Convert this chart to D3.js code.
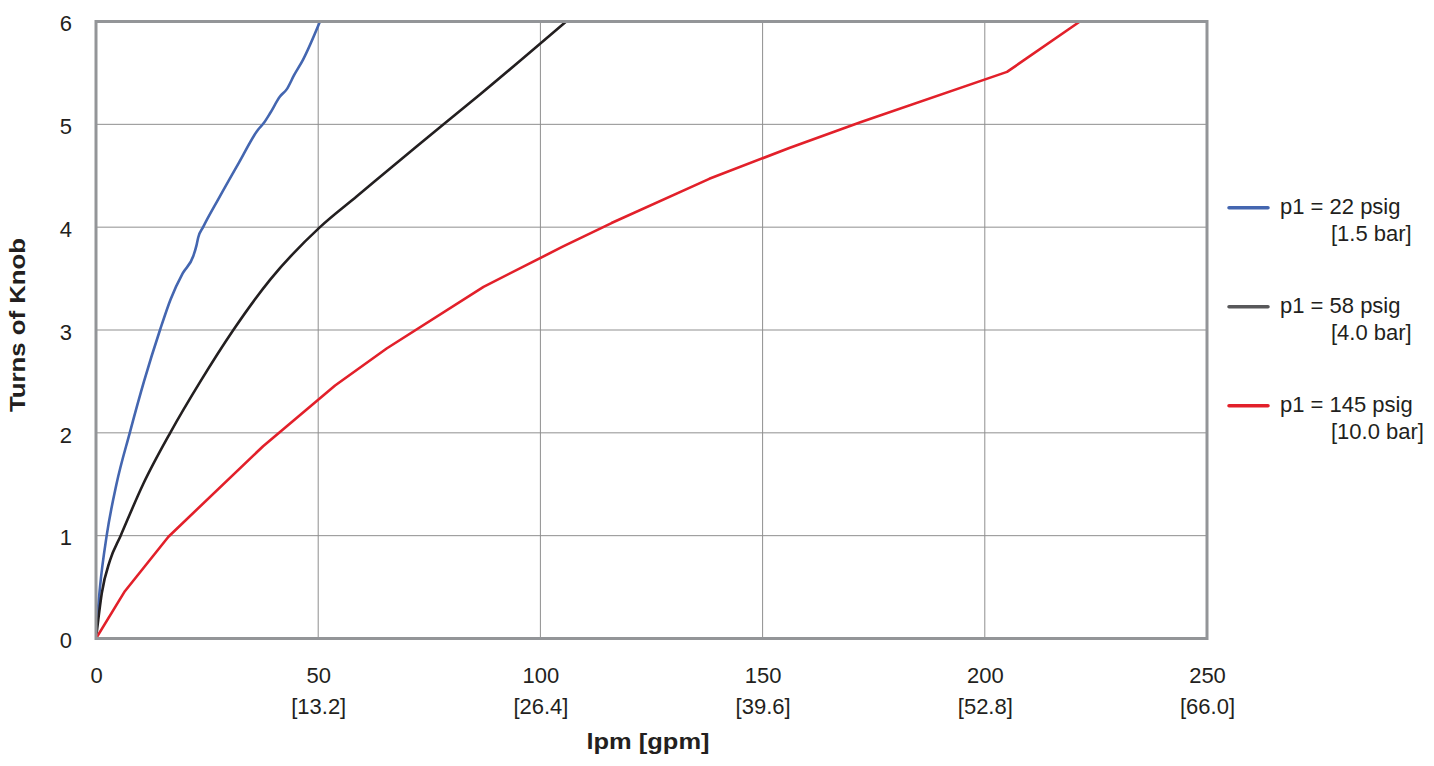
<!DOCTYPE html>
<html>
<head>
<meta charset="utf-8">
<script src="https://cdn.jsdelivr.net/npm/d3@7"></script>
<style>
  html, body { margin: 0; padding: 0; background: #fff; }
  svg { display: block; }
  text { font-family: "Liberation Sans", Arial, sans-serif; fill: #231f20; }
</style>
</head>
<body>
<svg id="chart" width="1434" height="766"></svg>
<script>
// ---- data ----
const xTicks = [0, 50, 100, 150, 200, 250];
const xTickSub = ["", "[13.2]", "[26.4]", "[39.6]", "[52.8]", "[66.0]"];
const yTicks = [0, 1, 2, 3, 4, 5, 6];

const seriesNames = ["p1 = 22 psig", "p1 = 58 psig", "p1 = 145 psig"];
const seriesSub = ["[1.5 bar]", "[4.0 bar]", "[10.0 bar]"];

const blue22 = [
  [0,0],[0.3,0.2],[0.9,0.5],[2.4,1.0],[4.6,1.5],[7.6,2.0],[10.8,2.5],[14.4,3.0],
  [16.8,3.3],[19.5,3.55],[21.9,3.72],[22.6,3.82],[23.0,3.9],[24.1,4.0],[27.5,4.27],
  [32.2,4.63],[36.5,4.95],[37.7,5.01],[39.2,5.11],[41.4,5.27],[42.9,5.34],[44.6,5.48],
  [46.6,5.63],[50.4,6.0]
];
const black58 = [
  [0,0],[0.5,0.18],[1.3,0.44],[3.15,0.76],[5.55,1.0],[10.6,1.5],[16.7,2.0],[23.5,2.5],
  [30.9,3.0],[39.2,3.49],[50.4,4.0],[58.7,4.3],[72,4.78],[86.4,5.29],[105.8,6.0]
];
const red145 = [
  [0,0],[6.5,0.46],[16.3,0.99],[37.6,1.87],[53.8,2.46],[65.4,2.82],[87.2,3.42],
  [105,3.81],[116,4.04],[138,4.47],[156,4.77],[172,5.02],[205,5.51],[221.4,6.0]
];

const seriesData = [blue22, black58, red145];
const seriesColors = ["#4466b0", "#231f20", "#e2202a"];
const legendColors = ["#4466b0", "#58585a", "#e2202a"];
const seriesCurves = [d3.curveMonotoneX, d3.curveMonotoneX, d3.curveLinear];

// ---- layout ----
const svg = d3.select("#chart");
const L = 96, R = 1207, T = 21.5, B = 638.5;

const x = d3.scaleLinear().domain([0, 250]).range([L, R]);
const y = d3.scaleLinear().domain([0, 6]).range([B, T]);

// grid
const grid = svg.append("g");
grid.selectAll("line.v").data(xTicks.slice(1, -1)).join("line")
  .attr("x1", d => x(d)).attr("x2", d => x(d))
  .attr("y1", T).attr("y2", B)
  .attr("stroke", "#8f8f8f").attr("stroke-width", 1);
grid.selectAll("line.h").data(yTicks.slice(1, -1)).join("line")
  .attr("x1", L).attr("x2", R)
  .attr("y1", d => y(d)).attr("y2", d => y(d))
  .attr("stroke", "#8f8f8f").attr("stroke-width", 1);

// lines
svg.append("defs").append("clipPath").attr("id", "clip")
  .append("rect").attr("x", L).attr("y", T - 2).attr("width", R - L).attr("height", B - T + 2);

const lines = svg.append("g").attr("clip-path", "url(#clip)");
seriesData.forEach((data, i) => {
  const gen = d3.line().x(d => x(d[0])).y(d => y(d[1])).curve(seriesCurves[i]);
  lines.append("path").datum(data)
    .attr("d", gen)
    .attr("fill", "none")
    .attr("stroke", seriesColors[i])
    .attr("stroke-width", 2.6)
    .attr("stroke-linejoin", "round")
    .attr("stroke-linecap", "round");
});

// frame
svg.append("rect")
  .attr("x", L).attr("y", T).attr("width", R - L).attr("height", B - T)
  .attr("fill", "none").attr("stroke", "#939598").attr("stroke-width", 3);

// y axis ticks
const yAxis = d3.axisLeft(y).tickValues(yTicks).tickSize(0).tickPadding(24).tickFormat(d3.format("d"));
const gy = svg.append("g").attr("transform", `translate(${L},0)`).call(yAxis);
gy.select(".domain").remove();
gy.selectAll("text")
  .attr("font-family", "Liberation Sans, Arial, sans-serif")
  .attr("font-size", 22).attr("fill", "#231f20")
  .attr("dy", "0.42em");

// x axis ticks
const xAxis = d3.axisBottom(x).tickValues(xTicks).tickSize(0).tickPadding(0).tickFormat(d3.format("d"));
const gx = svg.append("g").attr("transform", `translate(0,${B})`).call(xAxis);
gx.select(".domain").remove();
gx.selectAll("text")
  .attr("font-family", "Liberation Sans, Arial, sans-serif")
  .attr("font-size", 22).attr("fill", "#231f20")
  .attr("y", 44).attr("dy", 0);
gx.selectAll(".tick").append("text")
  .attr("y", 75).attr("text-anchor", "middle")
  .attr("font-family", "Liberation Sans, Arial, sans-serif")
  .attr("font-size", 22).attr("fill", "#231f20")
  .text((d, i) => xTickSub[i]);

// axis titles
svg.append("text")
  .attr("x", 648).attr("y", 749)
  .attr("text-anchor", "middle")
  .attr("font-size", 22).attr("font-weight", 900)
  .attr("textLength", 123).attr("lengthAdjust", "spacingAndGlyphs")
  .text("lpm [gpm]");

svg.append("text")
  .attr("transform", "translate(25,325) rotate(-90)")
  .attr("text-anchor", "middle")
  .attr("font-size", 22).attr("font-weight", 900)
  .attr("textLength", 174).attr("lengthAdjust", "spacingAndGlyphs")
  .text("Turns of Knob");

// legend
const legend = svg.append("g");
seriesNames.forEach((name, i) => {
  const ly = 207.7 + 99 * i;
  legend.append("line")
    .attr("x1", 1229).attr("x2", 1268).attr("y1", ly).attr("y2", ly)
    .attr("stroke", legendColors[i]).attr("stroke-width", 3.5).attr("stroke-linecap", "round");
  legend.append("text")
    .attr("x", 1280).attr("y", ly + 6.5)
    .attr("font-size", 22).text(name);
  legend.append("text")
    .attr("x", 1331).attr("y", ly + 33)
    .attr("font-size", 22).text(seriesSub[i]);
});
</script>
</body>
</html>
